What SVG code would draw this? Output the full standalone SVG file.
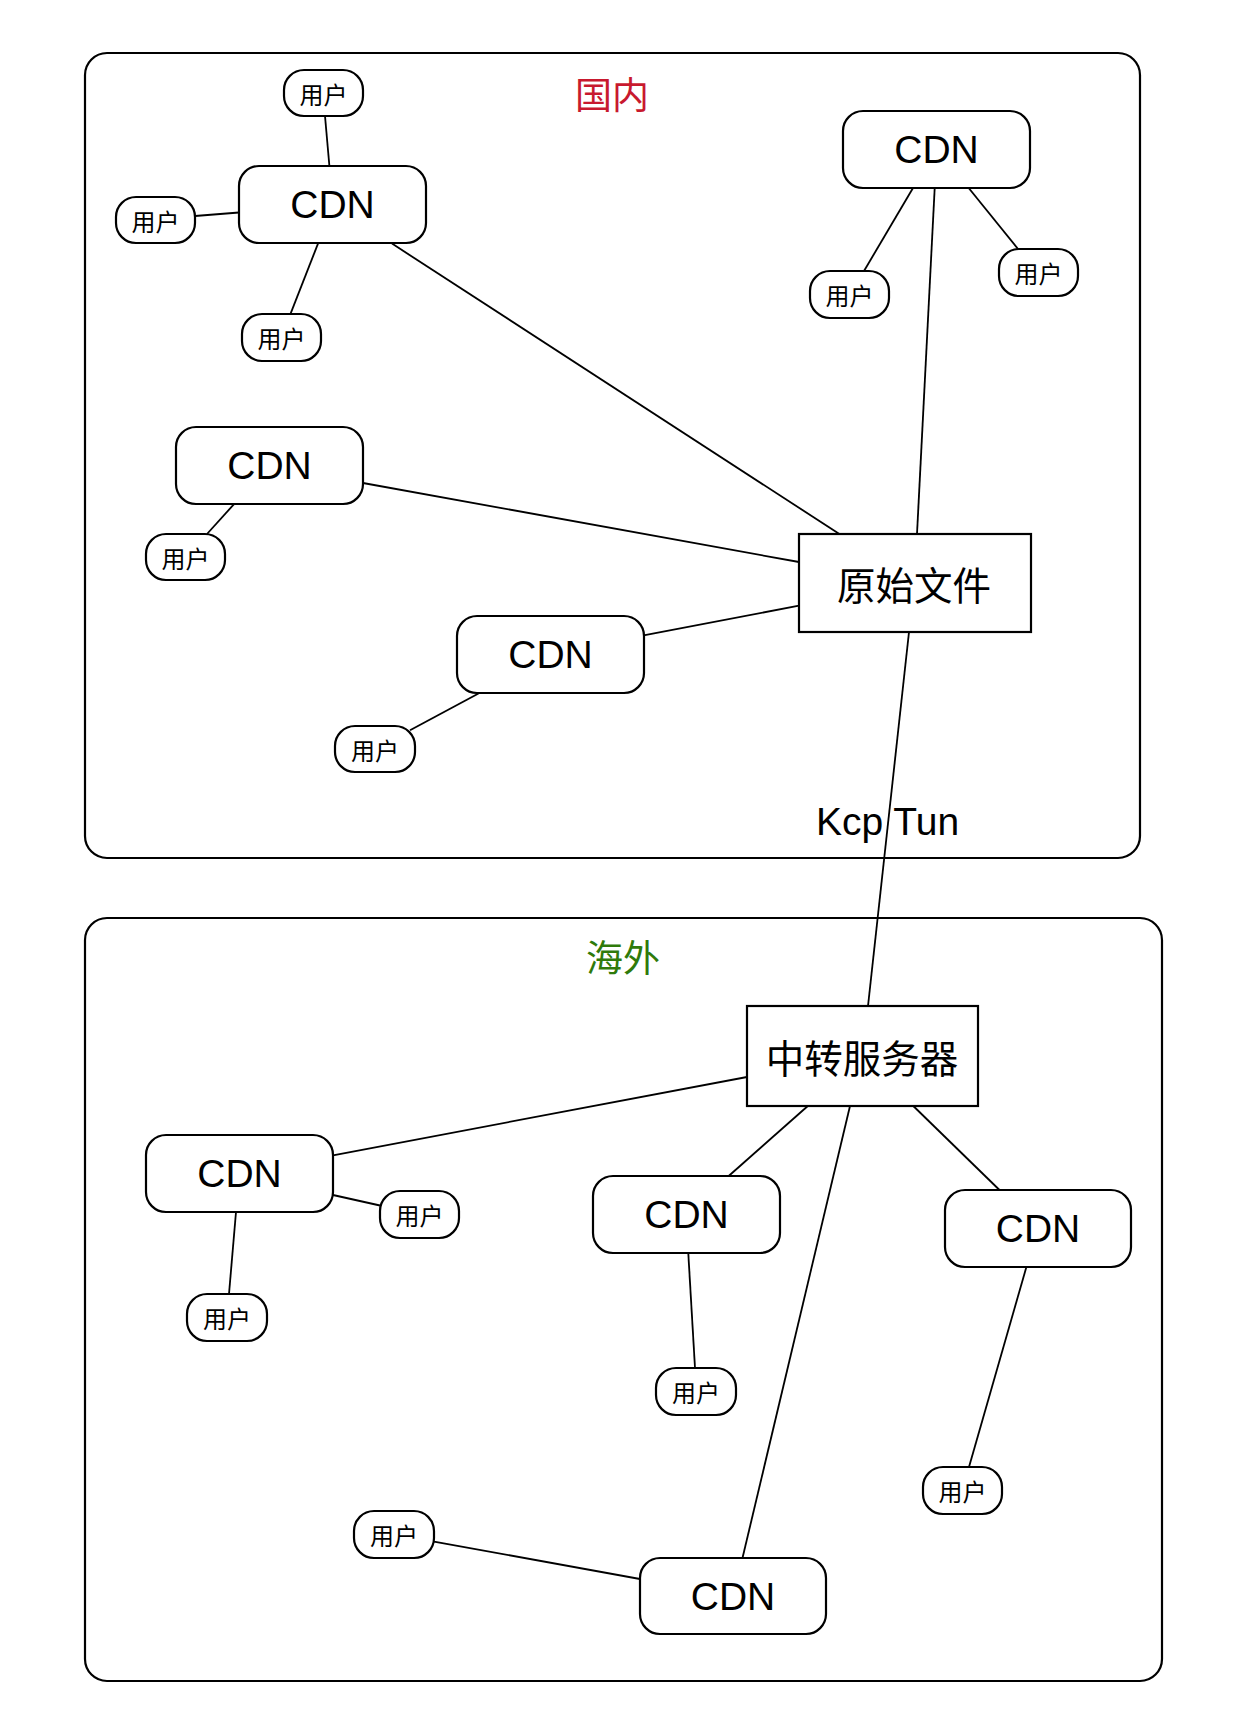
<svg xmlns="http://www.w3.org/2000/svg" width="1234" height="1714" viewBox="0 0 1234 1714">
<style>
.box{fill:none;stroke:#000;stroke-width:2.2}
.node{fill:#fff;stroke:#000;stroke-width:2.2}
.ln{stroke:#000;stroke-width:1.8;fill:none}
.cdn{font-family:"Liberation Sans",Arial,sans-serif;font-size:39px;text-anchor:middle;dominant-baseline:central;fill:#000}
.usr{font-family:"Noto Sans CJK SC","Noto Sans",sans-serif;font-size:24px;text-anchor:middle;dominant-baseline:central;fill:#000}
.big{font-family:"Noto Sans CJK SC","Noto Sans",sans-serif;font-size:38.5px;text-anchor:middle;dominant-baseline:central;fill:#000}
.title{font-family:"Noto Sans CJK SC","Noto Sans",sans-serif;font-size:37px;text-anchor:middle;dominant-baseline:central}
.lbl{font-family:"Liberation Sans",Arial,sans-serif;font-size:39px;fill:#000}
</style>
<rect width="1234" height="1714" fill="#fff"/>
<g id="region-domestic">
<rect class="box" x="85" y="53" width="1055" height="805" rx="22"/>
<text class="title" x="612" y="93" fill="#c8192e">国内</text>
</g>
<g id="region-overseas">
<rect class="box" x="85" y="918" width="1077" height="763" rx="22"/>
<text class="title" x="623" y="956" fill="#2f7a0a">海外</text>
</g>
<g id="connectors">
<line class="ln" x1="325" y1="116" x2="329.4" y2="166"/>
<line class="ln" x1="195" y1="216" x2="239" y2="212.5"/>
<line class="ln" x1="318" y1="243.6" x2="290.6" y2="313.6"/>
<line class="ln" x1="392" y1="243.6" x2="839.4" y2="534"/>
<line class="ln" x1="913" y1="188" x2="864" y2="271"/>
<line class="ln" x1="968.7" y1="188" x2="1018" y2="249"/>
<line class="ln" x1="934.7" y1="188" x2="917" y2="534"/>
<line class="ln" x1="363" y1="483" x2="799" y2="562"/>
<line class="ln" x1="234.5" y1="503.6" x2="207" y2="534"/>
<line class="ln" x1="643.6" y1="635.4" x2="799" y2="605.7"/>
<line class="ln" x1="478.5" y1="693.5" x2="410" y2="730.3"/>
<line class="ln" x1="909" y1="632" x2="868" y2="1006"/>
<line class="ln" x1="747" y1="1077" x2="333" y2="1155.3"/>
<line class="ln" x1="333" y1="1195" x2="380" y2="1205.5"/>
<line class="ln" x1="236" y1="1212" x2="229" y2="1294"/>
<line class="ln" x1="807.8" y1="1106" x2="728.7" y2="1176"/>
<line class="ln" x1="688.3" y1="1253.4" x2="695" y2="1368"/>
<line class="ln" x1="850" y1="1106" x2="742.5" y2="1558"/>
<line class="ln" x1="913.3" y1="1106" x2="999.5" y2="1190"/>
<line class="ln" x1="1026.4" y1="1267" x2="969" y2="1467"/>
<line class="ln" x1="434" y1="1541.6" x2="640" y2="1579"/>
<text class="lbl" x="816" y="835">Kcp Tun</text>
</g>
<g id="user1"><rect class="node" x="284" y="70" width="79" height="46" rx="20"/><text class="usr" x="323.5" y="93">用户</text></g>
<g id="cdn1"><rect class="node" x="239" y="166" width="187" height="77" rx="20"/><text class="cdn" x="332.5" y="204.5">CDN</text></g>
<g id="user2"><rect class="node" x="116" y="197" width="79" height="46" rx="20"/><text class="usr" x="155.5" y="220">用户</text></g>
<g id="user3"><rect class="node" x="242" y="314" width="79" height="47" rx="20"/><text class="usr" x="281.5" y="337.5">用户</text></g>
<g id="cdn2"><rect class="node" x="843" y="111" width="187" height="77" rx="20"/><text class="cdn" x="936.5" y="149.5">CDN</text></g>
<g id="user4"><rect class="node" x="810" y="271" width="79" height="47" rx="20"/><text class="usr" x="849.5" y="294.5">用户</text></g>
<g id="user5"><rect class="node" x="999" y="249" width="79" height="47" rx="20"/><text class="usr" x="1038.5" y="272.5">用户</text></g>
<g id="cdn3"><rect class="node" x="176" y="427" width="187" height="77" rx="20"/><text class="cdn" x="269.5" y="465.5">CDN</text></g>
<g id="user6"><rect class="node" x="146" y="534" width="79" height="46" rx="20"/><text class="usr" x="185.5" y="557">用户</text></g>
<g id="cdn4"><rect class="node" x="457" y="616" width="187" height="77" rx="20"/><text class="cdn" x="550.5" y="654.5">CDN</text></g>
<g id="user7"><rect class="node" x="335" y="726" width="80" height="46" rx="20"/><text class="usr" x="375" y="749">用户</text></g>
<g id="origin"><rect class="node" x="799" y="534" width="232" height="98"/><text class="big" x="914" y="583">原始文件</text></g>
<g id="relay"><rect class="node" x="747" y="1006" width="231" height="100"/><text class="big" x="862" y="1056">中转服务器</text></g>
<g id="cdn5"><rect class="node" x="146" y="1135" width="187" height="77" rx="20"/><text class="cdn" x="239.5" y="1173.5">CDN</text></g>
<g id="user8"><rect class="node" x="380" y="1191" width="79" height="47" rx="20"/><text class="usr" x="419.5" y="1214.5">用户</text></g>
<g id="user9"><rect class="node" x="187" y="1294" width="80" height="47" rx="20"/><text class="usr" x="227" y="1317.5">用户</text></g>
<g id="cdn6"><rect class="node" x="593" y="1176" width="187" height="77" rx="20"/><text class="cdn" x="686.5" y="1214.5">CDN</text></g>
<g id="user10"><rect class="node" x="656" y="1368" width="80" height="47" rx="20"/><text class="usr" x="696" y="1391.5">用户</text></g>
<g id="cdn7"><rect class="node" x="945" y="1190" width="186" height="77" rx="20"/><text class="cdn" x="1038" y="1228.5">CDN</text></g>
<g id="user11"><rect class="node" x="923" y="1467" width="79" height="47" rx="20"/><text class="usr" x="962.5" y="1490.5">用户</text></g>
<g id="cdn8"><rect class="node" x="640" y="1558" width="186" height="76" rx="20"/><text class="cdn" x="733" y="1596">CDN</text></g>
<g id="user12"><rect class="node" x="354" y="1511" width="80" height="47" rx="20"/><text class="usr" x="394" y="1534.5">用户</text></g>
</svg>
